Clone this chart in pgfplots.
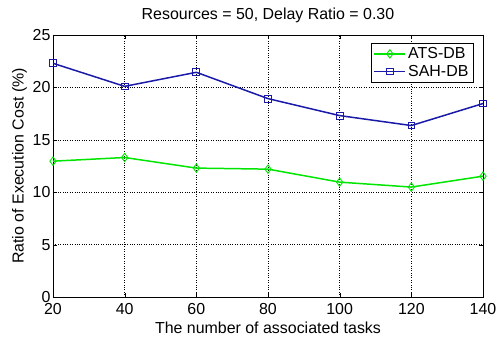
\documentclass[border=0pt]{standalone}
\usepackage{pgfplots}
\pgfplotsset{compat=1.18}
\usepackage{fontspec}
\setmainfont{Liberation Sans}
\definecolor{mgreen}{RGB}{0,230,0}
\definecolor{mblue}{RGB}{25,25,170}
\begin{document}
\begin{tikzpicture}
\useasboundingbox (-53bp,-41bp) rectangle (444bp,297bp);
\begin{axis}[
  at={(0,0)}, anchor=south west,
  scale only axis, width=430bp, height=262bp,
  xmin=20, xmax=140, ymin=0, ymax=25,
  xtick={20,40,...,140}, ytick={0,5,...,25},
  grid=major, grid style={dotted, black, line width=0.5pt},
  tick align=inside, tick style={black},
  /pgf/number format/assume math mode=true,
  ticklabel style={font=\fontsize{16}{17}\selectfont},
  xticklabel style={inner sep=1bp, yshift=-5bp},
  yticklabel style={xshift=1bp},
  label style={font=\fontsize{16}{17}\selectfont},
  title style={font=\fontsize{16}{17}\selectfont, yshift=3bp},
  title={Resources = 50, Delay Ratio = 0.30},
  xlabel={The number of associated tasks},
  ylabel={Ratio of Execution Cost (\%)},
  xlabel style={inner sep=1bp, yshift=-5bp},
  ylabel style={yshift=-1bp},
  legend style={at={(0.977,0.97)}, anchor=north east, draw=black, font=\fontsize{16}{17}\selectfont, row sep=1bp, inner sep=2.5bp},
  legend cell align=left,
  legend image code/.code={\draw[mark repeat=2,mark phase=2] plot coordinates {(0cm,0cm) (0.55cm,0cm) (1.1cm,0cm)};},
  every axis plot/.append style={line width=1.5pt},
]
\addplot[mgreen, mark=diamond, mark size=4.2pt, mark options={solid, line width=0.9pt}] coordinates {
 (20,12.96) (40,13.31) (60,12.3) (80,12.2) (100,10.96) (120,10.49) (140,11.53)};
\addlegendentry{ATS-DB}
\addplot[mblue, mark=square, mark size=3.4pt, mark options={solid, line width=0.9pt}] coordinates {
 (20,22.3) (40,20.1) (60,21.44) (80,18.93) (100,17.31) (120,16.36) (140,18.46)};
\addlegendentry{SAH-DB}
\end{axis}
\end{tikzpicture}
\end{document}
